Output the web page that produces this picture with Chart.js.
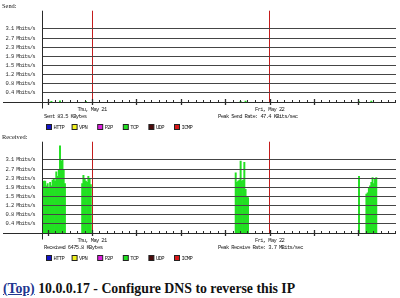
<!DOCTYPE html>
<html>
<head>
<meta charset="utf-8">
<script src="https://cdn.jsdelivr.net/npm/chart.js@4.4.1/dist/chart.umd.min.js"></script>
<style>
html,body{margin:0;padding:0;background:#fff;width:400px;height:298px;overflow:hidden;}
#wrap{position:relative;width:400px;height:298px;}
canvas{position:absolute;left:0;}
#send{top:0;}
#recv{top:131px;}
#title{position:absolute;left:3px;top:281px;font-family:'Liberation Serif','Times New Roman',serif;font-weight:bold;font-size:13.8px;line-height:16px;white-space:nowrap;color:#111;}
#title a{color:#22358f;text-decoration:underline;}
</style>
</head>
<body>
<div id="wrap">
<canvas id="send" width="400" height="131"></canvas>
<canvas id="recv" width="400" height="131"></canvas>
<div id="title"><a>(Top)</a> 10.0.0.17 - Configure DNS to reverse this IP</div>
</div>
<script>
// ---- data (x = minutes relative to Thu, May 21 00:00; y = Mbits/s) ----
const protocols = ['HTTP', 'VPN', 'P2P', 'TCP', 'UDP', 'ICMP'];
const protocolColors = ['#1414c8', '#f2f21e', '#dc1edc', '#22e022', '#4a0a0a', '#d81818'];
const midnights = [0, 1440];
const dayLabels = ['Thu, May 21', 'Fri, May 22'];
const yTickValues = [0.3875, 0.775, 1.1625, 1.55, 1.9375, 2.325, 2.7125, 3.1];
const yTickLabels = ['0.4 Mbits/s', '0.8 Mbits/s', '1.2 Mbits/s', '1.5 Mbits/s',
                     '1.9 Mbits/s', '2.3 Mbits/s', '2.7 Mbits/s', '3.1 Mbits/s'];

const recvMinutes = [
  -390, -380, -370, -360, -350, -340, -330, -320, -310, -300, -290, -280, -270, -260, -250, -240, -230, -220,
  -80, -70, -60, -50, -40, -30, -20, -10,
  1165, 1175, 1185, 1195, 1205, 1215, 1225, 1235, 1245, 1255, 1265,
  2165,
  2225, 2235, 2245, 2255, 2265, 2275, 2285, 2295, 2305
];
const recvTCP = [
  2.2, 2.2, 2.0, 2.1, 1.95, 2.15, 2.0, 2.25, 2.3, 2.2, 2.6, 2.4, 2.7, 3.7, 3.05, 3.1, 2.7, 2.1,
  2.1, 2.45, 2.3, 2.2, 2.15, 2.4, 2.3, 2.05,
  2.55, 2.15, 2.2, 2.25, 3.05, 2.2, 2.25, 3.0, 1.85, 1.55, 1.5,
  2.4,
  1.65, 1.7, 1.9, 2.0, 2.15, 2.35, 2.1, 2.3, 2.35
];

const sendMinutes = [-330, -260, -50, 1205, 1245, 2165, 2265];
const sendTCP = [0.03, 0.047, 0.03, 0.03, 0.04, 0.02, 0.035];

const xMin = -406, xMax = 2465, yMax = 3.875;

// ---- decorations drawn through the chart's own scales ----
const decor = {
  id: 'decor',
  beforeDraw(chart) { chart.ctx.letterSpacing = '-0.62px'; },
  afterDraw(chart, args, o) {
    const {ctx, chartArea: a, scales: {x, y}} = chart;
    const y0 = Math.round(y.getPixelForValue(0)) + 0.5;
    const xa = Math.round(a.left) + 0.5;
    ctx.save();
    ctx.strokeStyle = '#2a2a2a';
    ctx.lineWidth = 1;
    ctx.beginPath();
    ctx.moveTo(3, y0); ctx.lineTo(a.right, y0);
    ctx.moveTo(xa, a.top); ctx.lineTo(xa, y0 + 6);
    ctx.stroke();
    for (let m = Math.ceil(x.min / 60) * 60; m <= x.max; m += 60) {
      const px = Math.round(x.getPixelForValue(m)) + 0.5;
      const major = m % 360 === 0;
      ctx.lineWidth = major ? 1.3 : 1;
      ctx.beginPath();
      ctx.moveTo(px, y0 - (major ? 3.5 : 2.5));
      ctx.lineTo(px, y0 + (major ? 2.5 : 0));
      ctx.stroke();
    }
    ctx.lineWidth = 1;
    ctx.fillStyle = '#1a1a1a';
    ctx.textBaseline = 'middle';
    ctx.textAlign = 'left';
    ctx.letterSpacing = '0px';
    ctx.font = '6.4px "Liberation Serif", serif';
    ctx.fillText(o.title, 2, 6);
    ctx.font = '5.5px "Liberation Mono", "DejaVu Sans Mono", monospace';
    ctx.letterSpacing = '-0.65px';
    ctx.fillStyle = '#222';
    ctx.textAlign = 'center';
    midnights.forEach((m, i) => ctx.fillText(dayLabels[i], x.getPixelForValue(m), y0 + 7.5));
    ctx.textAlign = 'left';
    ctx.fillText(o.left, 44, y0 + 14.5);
    ctx.fillText(o.right, 218, y0 + 14.5);
    chart.data.datasets.forEach((d, i) => {
      const lx = 46.5 + i * 25.6, ly = 124.5;
      ctx.fillStyle = d.backgroundColor;
      ctx.fillRect(lx, ly, 5, 5);
      ctx.strokeStyle = '#222';
      ctx.strokeRect(lx, ly, 5, 5);
      ctx.fillStyle = '#222';
      ctx.fillText(d.label, lx + 7, ly + 3);
    });
    ctx.restore();
  }
};

function makeChart(id, title, minutes, values, leftText, rightText) {
  const datasets = protocols.map((p, i) => ({
    label: p,
    backgroundColor: protocolColors[i],
    borderWidth: 0,
    data: p === 'TCP' ? minutes.map((m, k) => ({x: m, y: values[k]})) : []
  }));
  return new Chart(document.getElementById(id), {
    type: 'bar',
    data: {datasets},
    options: {
      responsive: false,
      animation: false,
      devicePixelRatio: 1,
      layout: {padding: {left: 0, right: 4, top: 10.7, bottom: 29}},
      barThickness: 1.3,
      plugins: {
        legend: {display: false},
        tooltip: {enabled: false},
        decor: {title, left: leftText, right: rightText}
      },
      scales: {
        x: {
          type: 'linear', min: xMin, max: xMax, bounds: 'data', offset: false, stacked: true,
          afterBuildTicks: s => { s.ticks = midnights.map(v => ({value: v})); },
          afterFit: s => { s.height = 0; },
          ticks: {display: false},
          border: {display: false},
          grid: {color: '#c41c1c', lineWidth: 1, drawTicks: false, offset: false, z: 1}
        },
        y: {
          min: 0, max: yMax, bounds: 'data', stacked: true,
          afterBuildTicks: s => { s.ticks = yTickValues.map(v => ({value: v})); },
          afterFit: s => { s.width = 42; },
          ticks: {
            padding: 7, color: '#333',
            font: {family: '"Liberation Mono", "DejaVu Sans Mono", monospace', size: 5.5},
            callback: (v, i) => yTickLabels[i]
          },
          border: {display: false},
          grid: {color: '#454545', lineWidth: 1, drawTicks: false, z: 1}
        }
      }
    },
    plugins: [decor]
  });
}

makeChart('send', 'Send:', sendMinutes, sendTCP,
  'Sent 83.5 KBytes', 'Peak Send Rate: 47.4 KBits/sec');
makeChart('recv', 'Received:', recvMinutes, recvTCP,
  'Received 6475.8 KBytes', 'Peak Receive Rate: 3.7 MBits/sec');
</script>
</body>
</html>
